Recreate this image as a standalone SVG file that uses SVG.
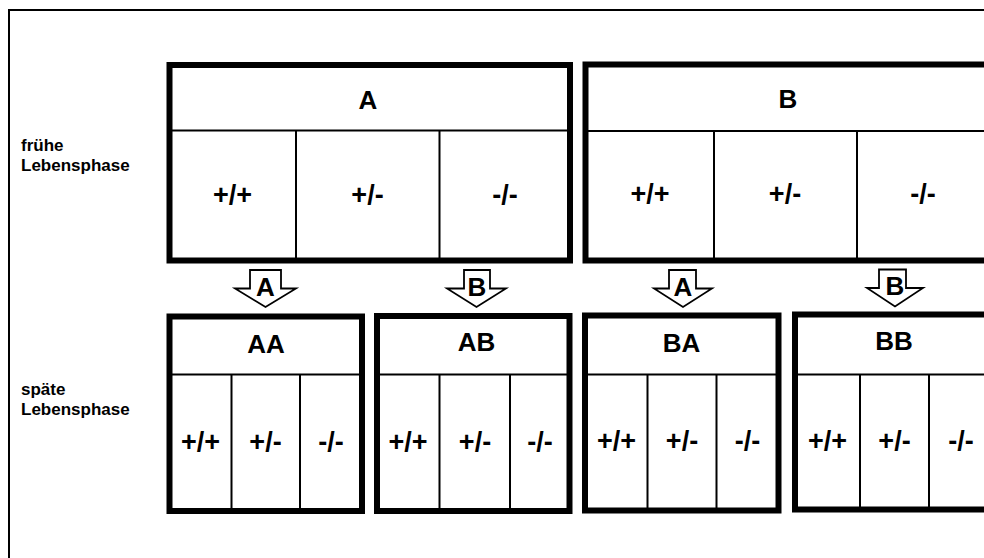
<svg xmlns="http://www.w3.org/2000/svg" width="984" height="558" viewBox="0 0 984 558">
<style>
.frame{fill:none;stroke:#000;stroke-width:2}
.box{fill:#fff;stroke:#000;stroke-width:6}
.dv{stroke:#000;stroke-width:2;fill:none}
.hdr{font-family:"Liberation Sans",Arial,sans-serif;font-weight:bold;font-size:26px;text-anchor:middle;fill:#000}
.cell{font-family:"Liberation Sans",Arial,sans-serif;font-weight:bold;font-size:27px;text-anchor:middle;fill:#000}
.lbl{font-family:"Liberation Sans",Arial,sans-serif;font-weight:bold;font-size:17px;fill:#000}
.arr{fill:#fff;stroke:#000;stroke-width:1.8;stroke-linejoin:miter}
</style>
<rect width="984" height="558" fill="#fff"/>
<rect class="frame" x="9" y="10" width="1000" height="600"/>
<g id="labels">
<text class="lbl" x="21" y="151">frühe</text>
<text class="lbl" x="21" y="171">Lebensphase</text>
<text class="lbl" x="21" y="395">späte</text>
<text class="lbl" x="21" y="415">Lebensphase</text>
</g>
<g id="node-A">
<rect class="box" x="169.5" y="65" width="400.5" height="195.5"/>
<path class="dv" d="M169.5 130.5H570M296 130.5V260.5M439.5 130.5V260.5"/>
<text class="hdr" x="368" y="108.5">A</text>
<text class="cell" x="232.5" y="203.5">+/+</text>
<text class="cell" x="367.5" y="203.5">+/-</text>
<text class="cell" x="505" y="203.5">-/-</text>
</g>
<g id="node-B">
<rect class="box" x="585.5" y="64.5" width="405" height="196"/>
<path class="dv" d="M585.5 131H990.5M714 131V260.5M857 131V260.5"/>
<text class="hdr" x="788" y="108">B</text>
<text class="cell" x="650" y="202.5">+/+</text>
<text class="cell" x="785" y="202.5">+/-</text>
<text class="cell" x="923" y="202.5">-/-</text>
</g>
<g id="node-AA">
<rect class="box" x="169.5" y="316.5" width="192.5" height="194.5"/>
<path class="dv" d="M169.5 374.5H362M231.5 374.5V511M300 374.5V511"/>
<text class="hdr" x="266" y="352.5">AA</text>
<text class="cell" x="200.5" y="450.5">+/+</text>
<text class="cell" x="265.5" y="450.5">+/-</text>
<text class="cell" x="331" y="450.5">-/-</text>
</g>
<g id="node-AB">
<rect class="box" x="377" y="316" width="192.5" height="195"/>
<path class="dv" d="M377 374.5H569.5M439.5 374.5V511M510 374.5V511"/>
<text class="hdr" x="476.5" y="351">AB</text>
<text class="cell" x="408" y="450.5">+/+</text>
<text class="cell" x="475" y="450.5">+/-</text>
<text class="cell" x="540" y="450.5">-/-</text>
</g>
<g id="node-BA">
<rect class="box" x="585" y="315.5" width="193.5" height="195"/>
<path class="dv" d="M585 374.5H778.5M647.5 374.5V510.5M716.5 374.5V510.5"/>
<text class="hdr" x="681.5" y="352">BA</text>
<text class="cell" x="616.5" y="450">+/+</text>
<text class="cell" x="682" y="450">+/-</text>
<text class="cell" x="747.5" y="450">-/-</text>
</g>
<g id="node-BB">
<rect class="box" x="795" y="314.5" width="198" height="195"/>
<path class="dv" d="M795 374.5H993M860 374.5V509.5M929 374.5V509.5"/>
<text class="hdr" x="894" y="350">BB</text>
<text class="cell" x="827.5" y="449.5">+/+</text>
<text class="cell" x="894.5" y="449.5">+/-</text>
<text class="cell" x="961" y="449.5">-/-</text>
</g>
<g id="connectors">
<polygon class="arr" points="250,270 281,270 281,288.5 296,288.5 265.5,307 235,288.5 250,288.5"/>
<text class="hdr" x="265.5" y="295.5">A</text>
<polygon class="arr" points="464,270 490,270 490,288.5 506,288.5 476.5,307 447,288.5 464,288.5"/>
<text class="hdr" x="477" y="295.5">B</text>
<polygon class="arr" points="669,270 696,270 696,288.5 712,288.5 683,307 654,288.5 669,288.5"/>
<text class="hdr" x="683" y="295.5">A</text>
<polygon class="arr" points="879,269.5 906,269.5 906,288 923,288 895,306.5 867,288 879,288"/>
<text class="hdr" x="895" y="295">B</text>
</g>
</svg>
